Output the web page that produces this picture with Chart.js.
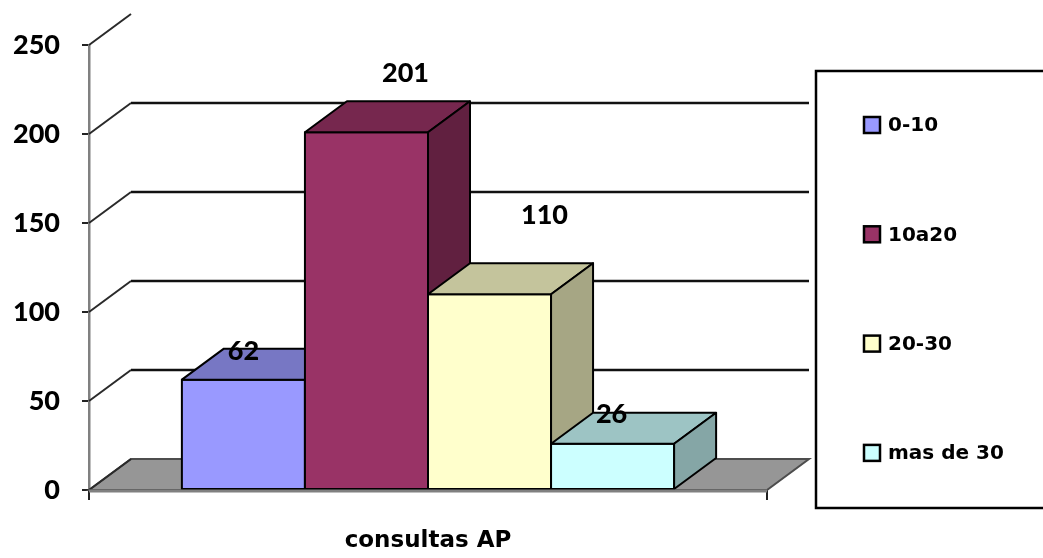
<!DOCTYPE html>
<html>
<head>
<meta charset="utf-8">
<script src="https://cdn.jsdelivr.net/npm/chart.js@4"></script>
<style>
  html, body { margin: 0; padding: 0; background: #fff; }
  #wrap { width: 1043px; height: 558px; position: relative; }
</style>
</head>
<body>
<div id="wrap"><canvas id="chart"></canvas></div>
<script>
// datos del grafico
const categories = ['consultas AP'];
const seriesNames = ['0-10', '10a20', '20-30', 'mas de 30'];
const seriesValues = [62, 201, 110, 26];
const yTicks = [0, 50, 100, 150, 200, 250];

// colores (frente / tapa / lado)
const frontColors = ['#9999FF', '#993366', '#FFFFCC', '#CCFFFF'];
const topColors = ['#7777C4', '#76274E', '#C4C49C', '#9DC4C4'];
const sideColors = ['#6464A6', '#612040', '#A6A684', '#85A6A6'];

// profundidad del efecto 3D y desplazamiento de etiquetas
const dx = 42, dy = -31;
const labelShift = [[0, -28], [39, -59], [55, -79], [-1, -29]];

const numFont = '900 27px Lato';
const txtFont = 'bold 20px "DejaVu Sans"';

function poly(ctx, pts, fill) {
  ctx.beginPath();
  ctx.moveTo(pts[0][0], pts[0][1]);
  for (let i = 1; i < pts.length; i++) ctx.lineTo(pts[i][0], pts[i][1]);
  ctx.closePath();
  ctx.fillStyle = fill;
  ctx.fill();
  ctx.stroke();
}

const box3d = {
  id: 'box3d',
  beforeDatasetsDraw(chart) {
    const { ctx, chartArea: a, scales: { y } } = chart;
    ctx.save();
    // suelo
    ctx.strokeStyle = '#4d4d4d';
    ctx.lineWidth = 2;
    poly(ctx, [[a.left, a.bottom], [a.right, a.bottom], [a.right + dx, a.bottom + dy], [a.left + dx, a.bottom + dy]], '#969696');
    // pared izquierda + lineas de la pared del fondo
    yTicks.forEach(v => {
      const py = y.getPixelForValue(v);
      ctx.strokeStyle = '#2a2a2a';
      ctx.lineWidth = 2;
      ctx.beginPath();
      ctx.moveTo(a.left, py);
      ctx.lineTo(a.left + dx, py + dy);
      ctx.stroke();
      if (v > 0 && v < 250) {
        ctx.strokeStyle = '#111';
        ctx.lineWidth = 2.5;
        ctx.beginPath();
        ctx.moveTo(a.left + dx, py + dy);
        ctx.lineTo(a.right + dx, py + dy);
        ctx.stroke();
      }
    });
    ctx.restore();
  },
  afterDatasetsDraw(chart) {
    const { ctx, chartArea: a } = chart;
    ctx.save();
    ctx.strokeStyle = '#000';
    ctx.lineWidth = 2;
    ctx.lineJoin = 'round';
    seriesValues.forEach((val, i) => {
      const bar = chart.getDatasetMeta(i).data[0];
      const { x, y, base, width } = bar.getProps(['x', 'y', 'base', 'width'], true);
      const l = x - width / 2, r = x + width / 2;
      poly(ctx, [[l, y], [r, y], [r, base], [l, base]], frontColors[i]);
      poly(ctx, [[l, y], [r, y], [r + dx, y + dy], [l + dx, y + dy]], topColors[i]);
      poly(ctx, [[r, y], [r + dx, y + dy], [r + dx, base + dy], [r, base]], sideColors[i]);
    });
    // etiquetas de datos
    ctx.fillStyle = '#000';
    ctx.font = numFont;
    ctx.textAlign = 'center';
    ctx.textBaseline = 'middle';
    seriesValues.forEach((val, i) => {
      const bar = chart.getDatasetMeta(i).data[0];
      const { x, y } = bar.getProps(['x', 'y'], true);
      ctx.fillText(String(val), x + labelShift[i][0], y + labelShift[i][1]);
    });
    // eje x
    ctx.strokeStyle = '#808080';
    ctx.lineWidth = 3;
    ctx.beginPath();
    ctx.moveTo(a.left, a.bottom + 1);
    ctx.lineTo(a.right, a.bottom + 1);
    ctx.stroke();
    ctx.restore();
  },
  afterDraw(chart) {
    const ctx = chart.ctx;
    ctx.save();
    // leyenda
    ctx.strokeStyle = '#000';
    ctx.lineWidth = 2.5;
    ctx.strokeRect(816, 71, 240, 437);
    ctx.font = txtFont;
    ctx.textAlign = 'left';
    ctx.textBaseline = 'middle';
    seriesNames.forEach((name, i) => {
      const cy = 125 + i * 109.3;
      ctx.fillStyle = frontColors[i];
      ctx.fillRect(864, cy - 8, 16, 16);
      ctx.strokeStyle = '#000';
      ctx.lineWidth = 2.5;
      ctx.strokeRect(864, cy - 8, 16, 16);
      ctx.fillStyle = '#000';
      ctx.fillText(name, 888, cy + 1);
    });
    ctx.restore();
  }
};

new Chart(document.getElementById('chart').getContext('2d'), {
  type: 'bar',
  data: {
    labels: categories,
    datasets: seriesNames.map((name, i) => ({
      label: name,
      data: [seriesValues[i]],
      backgroundColor: frontColors[i],
      borderColor: '#000',
      borderWidth: 2,
      categoryPercentage: 0.726,
      barPercentage: 1.0
    }))
  },
  options: {
    responsive: true,
    maintainAspectRatio: false,
    animation: false,
    layout: { padding: { top: 45, right: 276, left: 0, bottom: 0 } },
    plugins: { legend: { display: false }, tooltip: { enabled: false } },
    scales: {
      x: {
        offset: true,
        grid: { offset: true, drawOnChartArea: false, tickLength: 10, color: '#222', lineWidth: 2 },
        border: { display: false },
        ticks: { color: '#000', padding: 27, font: { family: 'DejaVu Sans', weight: 'bold', size: 23 } },
        afterFit(s) { s.height = 68; }
      },
      y: {
        min: 0,
        max: 250,
        ticks: { stepSize: 50, padding: 22, color: '#000', font: { family: 'Lato', weight: '900', size: 27 } },
        grid: { drawOnChartArea: false, tickLength: 7, color: '#222', lineWidth: 2 },
        border: { color: '#808080', width: 2.5 },
        afterFit(s) { s.width = 89; }
      }
    }
  },
  plugins: [box3d]
});
</script>
</body>
</html>
